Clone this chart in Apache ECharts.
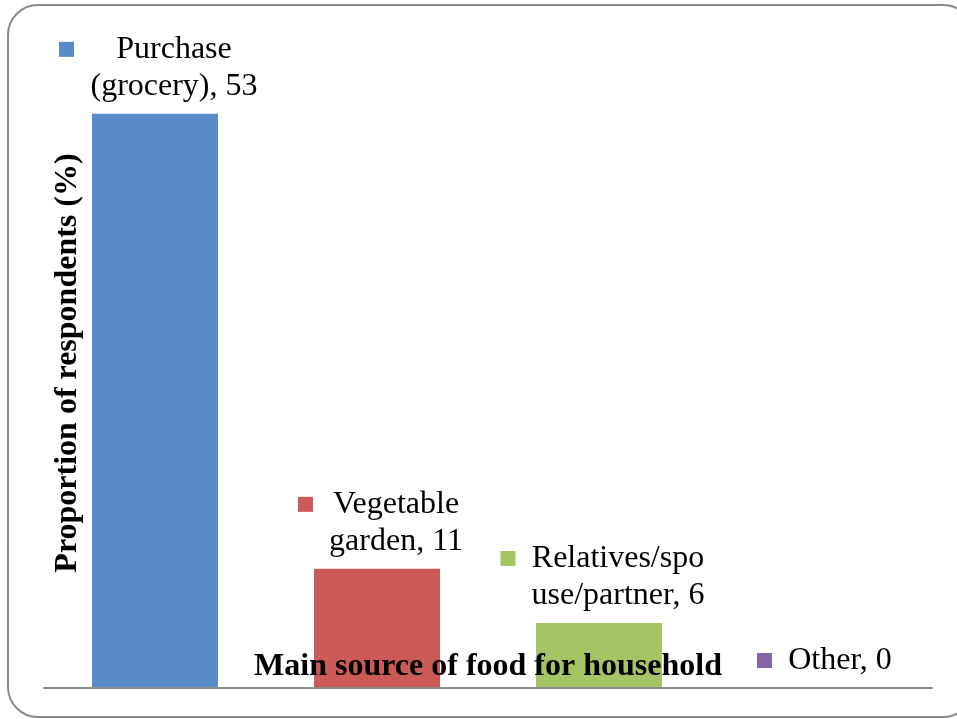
<!DOCTYPE html>
<html>
<head>
<meta charset="utf-8">
<script src="https://cdn.jsdelivr.net/npm/echarts@6/dist/echarts.min.js"></script>
<style>
  html, body { margin: 0; padding: 0; background: #fff; }
  #main { width: 957px; height: 719px; }
</style>
</head>
<body>
<div id="main"></div>
<script>
var categories = ['Purchase (grocery)', 'Vegetable garden', 'Relatives/spouse/partner', 'Other'];
// category names as they wrap in the data labels
var labelLines = [['Purchase', '(grocery)'], ['Vegetable', 'garden'], ['Relatives/spo', 'use/partner'], ['Other']];
var values = [53, 11, 6, 0];
var colors = ['#588BC8', '#CC5A56', '#A5C463', '#8466A6'];
var yAxisName = 'Proportion of respondents (%)';
var xAxisName = 'Main source of food for household';

var serif = '"Liberation Serif", "Times New Roman", serif';
var labelFont = 32;

// measure text so each label's text column gets a fixed width
var ctx = document.createElement('canvas').getContext('2d');
ctx.font = labelFont + 'px ' + serif;

var rich = {
  sp: { width: 15, height: 15 },
  gap: { width: 15 }
};
var labelText = [];
values.forEach(function (v, i) {
  var lines = labelLines[i].slice();
  lines[lines.length - 1] += ', ' + v;
  var w = 0;
  lines.forEach(function (l) { w = Math.max(w, ctx.measureText(l).width); });
  rich['sq' + i] = { width: 15, height: 15, backgroundColor: colors[i] };
  rich['t' + i] = {
    width: Math.ceil(w) + 2, align: 'center',
    fontFamily: serif, fontSize: labelFont, lineHeight: 37, color: '#000'
  };
  labelText.push(lines.map(function (l, j) {
    return (j === 0 ? '{sq' + i + '|}' : '{sp|}') + '{gap|}{t' + i + '|' + l + '}';
  }).join('\n'));
});

var chart = echarts.init(document.getElementById('main'));
chart.setOption({
  animation: false,
  grid: { left: 44, right: 25, top: 38, bottom: 31 },
  graphic: [{
    type: 'rect',
    shape: { x: 8, y: 5, width: 965, height: 712, r: 30 },
    style: { fill: 'none', stroke: '#8a8a8a', lineWidth: 2 },
    silent: true
  }],
  xAxis: {
    type: 'category',
    data: categories,
    z: 10,
    axisLine: { lineStyle: { color: '#8c8c8c', width: 2 } },
    axisTick: { show: false },
    axisLabel: { show: false },
    name: xAxisName,
    nameLocation: 'middle',
    nameGap: -37,
    nameTextStyle: { fontFamily: serif, fontSize: 32, fontWeight: 'bold', color: '#000' }
  },
  yAxis: {
    type: 'value',
    min: 0,
    max: 60,
    axisLine: { show: false },
    axisTick: { show: false },
    axisLabel: { show: false },
    splitLine: { show: false },
    name: yAxisName,
    nameLocation: 'middle',
    nameRotate: 90,
    nameGap: -40,
    nameTextStyle: { fontFamily: serif, fontSize: 32, fontWeight: 'bold', color: '#000' }
  },
  series: [{
    type: 'bar',
    barWidth: 126,
    data: values.map(function (v, i) {
      return { value: v, itemStyle: { color: colors[i] } };
    }),
    label: {
      show: true,
      position: 'top',
      distance: 9,
      offset: [4, 0],
      formatter: function (p) { return labelText[p.dataIndex]; },
      rich: rich
    }
  }]
});
</script>
</body>
</html>
